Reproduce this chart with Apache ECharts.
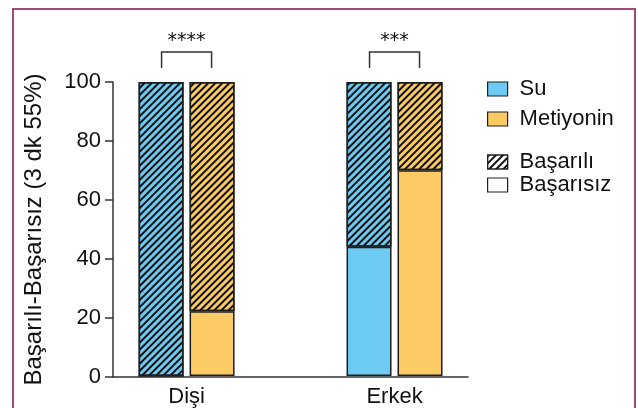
<!DOCTYPE html>
<html>
<head>
<meta charset="utf-8">
<script src="https://cdn.jsdelivr.net/npm/echarts@6/dist/echarts.min.js"></script>
<style>
  html, body { margin: 0; padding: 0; background: #fff; }
  #frame { position: absolute; left: 12px; top: 8px; width: 624px; height: 420px; border-left: 2px solid #a2497a; border-top: 2px solid #a2497a; border-right: 2px solid #a2497a; box-sizing: border-box; }
  #chart { position: absolute; left: 0; top: 0; width: 638px; height: 408px; }
</style>
</head>
<body>
<div id="frame"></div>
<div id="chart"></div>
<script>
// ---- data ----
const categories = ['Dişi', 'Erkek'];
const suBasarisiz = [0, 44];
const suBasarili = [100, 56];
const metBasarisiz = [22, 70];
const metBasarili = [78, 30];
const sigLabels = ['****', '***'];
const yMin = 0, yMax = 100, yInterval = 20;

// ---- style ----
const BLUE = '#6dcaf2';
const YELLOW = '#fdcb63';
const EDGE = '#1e1e1e';
const AXIS = '#333333';
const FONT = '"Liberation Sans", Arial, Helvetica, sans-serif';
const BAR_W = 45;
const BAR_GAP_PX = 6;
const hatch = {
  symbol: 'rect',
  symbolSize: 1,
  dashArrayX: [1, 0],
  dashArrayY: [1.2, 2.3],
  rotation: -Math.PI / 4,
  color: '#111'
};

function barSeries(name, data, stack, color, withHatch) {
  const s = {
    name: name,
    type: 'bar',
    xAxisIndex: 1,
    yAxisIndex: 1,
    stack: stack,
    data: data,
    barWidth: BAR_W,
    barGap: (BAR_GAP_PX / BAR_W * 100).toFixed(1) + '%',
    itemStyle: { color: color, borderColor: EDGE, borderWidth: 1.5 },
    emphasis: { disabled: true },
    silent: true
  };
  if (withHatch) s.itemStyle.decal = hatch;
  return s;
}

const chart = echarts.init(document.getElementById('chart'), null, { renderer: 'canvas' });

const legendCommon = {
  orient: 'vertical',
  left: 482,
  icon: 'rect',
  itemWidth: 20, itemHeight: 14,
  selectedMode: false,
  textStyle: { fontSize: 22, color: '#111', fontFamily: FONT, padding: [0, 0, 0, 7] },
  itemStyle: { borderColor: EDGE, borderWidth: 1.2 }
};

const option = {
  animation: false,
  backgroundColor: 'transparent',
  textStyle: { fontFamily: FONT },
  grid: [
    { left: 113, right: 170, top: 82, bottom: 31, containLabel: false },
    { left: 82.6, right: 139.5, top: 82, bottom: 31, containLabel: false }
  ],
  legend: [
    Object.assign({}, legendCommon, { data: ['Su', 'Metiyonin'], top: 73, itemGap: 8 }),
    Object.assign({}, legendCommon, { data: ['Başarılı', 'Başarısız'], top: 146, itemGap: 1 })
  ],
  xAxis: [
    {
      gridIndex: 0,
      type: 'value', min: 0, max: 1,
      splitLine: { show: false },
      axisTick: { show: false },
      axisLabel: { show: false },
      axisLine: { show: true, onZero: false, lineStyle: { color: AXIS, width: 1.5 } }
    },
    {
      gridIndex: 1,
      type: 'category',
      data: categories,
      axisLine: { show: false },
      axisTick: { show: false },
      splitLine: { show: false },
      axisLabel: { fontSize: 22, color: '#111', margin: 10, fontFamily: FONT }
    }
  ],
  yAxis: [
    {
      gridIndex: 0,
      type: 'value',
      min: yMin, max: yMax, interval: yInterval,
      name: 'Başarılı-Başarısız (3 dk 55%)',
      nameLocation: 'middle',
      nameGap: 67,
      nameTextStyle: { fontSize: 24, color: '#111', fontFamily: FONT },
      splitLine: { show: false },
      axisLine: { show: true, lineStyle: { color: AXIS, width: 1.5 } },
      axisTick: { show: true, length: 8, lineStyle: { color: AXIS, width: 1.5 } },
      axisLabel: { fontSize: 22, color: '#111', margin: 12, fontFamily: FONT }
    },
    {
      gridIndex: 1,
      type: 'value',
      min: yMin, max: yMax, interval: yInterval,
      show: false
    }
  ],
  series: [
    barSeries('Su', suBasarisiz, 'su', BLUE, false),
    barSeries('Su ', suBasarili, 'su', BLUE, true),
    barSeries('Metiyonin', metBasarisiz, 'met', YELLOW, false),
    barSeries('Metiyonin ', metBasarili, 'met', YELLOW, true),
    barSeries('Başarılı', [], 'su', '#ffffff', true),
    barSeries('Başarısız', [], 'su', '#ffffff', false),
    {
      type: 'custom',
      xAxisIndex: 1,
      yAxisIndex: 1,
      silent: true,
      clip: false,
      z: 10,
      data: sigLabels.map((s, i) => [i, yMax]),
      renderItem: function (params, api) {
        const i = api.value(0);
        const c = api.coord([i, api.value(1)]);
        const half = (BAR_W + BAR_GAP_PX) / 2;
        const yTop = c[1] - 30;
        const yLeg = c[1] - 14;
        return {
          type: 'group',
          children: [
            {
              type: 'polyline',
              shape: { points: [[c[0] - half + 0.5, yLeg], [c[0] - half + 0.5, yTop], [c[0] + half - 0.5, yTop], [c[0] + half - 0.5, yLeg]] },
              style: { stroke: AXIS, lineWidth: 1.5, fill: null }
            },
            {
              type: 'text',
              style: {
                text: sigLabels[params.dataIndex],
                x: c[0], y: yTop - 1,
                align: 'center', verticalAlign: 'bottom',
                font: '19px "DejaVu Sans", sans-serif',
                fill: '#111'
              }
            }
          ]
        };
      }
    }
  ]
};
chart.setOption(option);
</script>
</body>
</html>
